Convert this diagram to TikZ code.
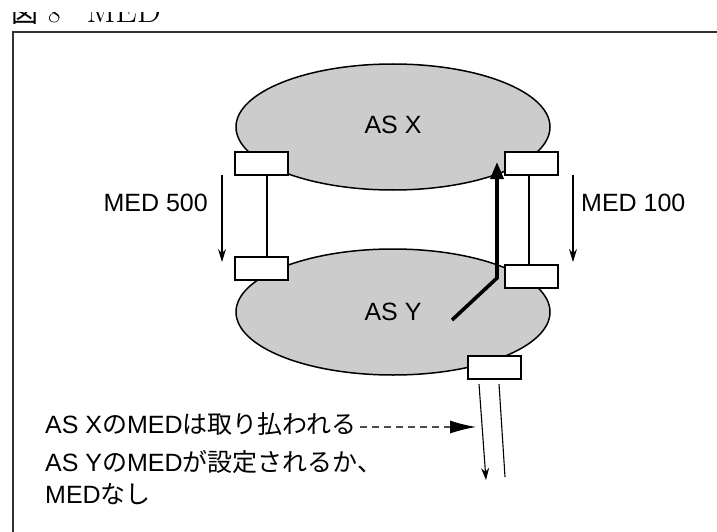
\documentclass[tikz,border=0pt]{standalone}
\usepackage{fontspec}
\setsansfont{Liberation Sans}
\newfontfamily\jpfont{Noto Sans CJK JP}
\usetikzlibrary{shapes.geometric,arrows.meta}
\tikzset{
  asnet/.style={ellipse,draw,line width=1.5pt,fill=gray!40,minimum width=314pt,minimum height=126pt,inner sep=0pt,font=\sffamily\fontsize{25}{30}\selectfont},
  router/.style={draw,line width=2pt,fill=white,minimum width=53pt,minimum height=23pt,inner sep=0pt},
  medarrow/.style={line width=1.1pt,-{Stealth[length=13pt,width=8pt]}},
  lbl/.style={inner sep=0pt,font=\sffamily\fontsize{25}{30}\selectfont},
}
\newcommand{\ja}[1]{{\jpfont #1}}
\begin{document}
\begin{tikzpicture}[x=1pt,y=-1pt]
\useasboundingbox (0,0) rectangle (717,532);
\clip (0,0) rectangle (717,532);
% title, only its lower edge shows
\begin{scope}
\clip (0,13) rectangle (200,24);
\node[anchor=base west,inner sep=0pt,font=\fontsize{27}{30}\selectfont] (ttl) at (11,23) {\ja{図}\hspace{10pt}8\hspace{26pt}\fontsize{34}{36}\selectfont MED};
\end{scope}
% frame
\draw[black!80,line width=2pt] (13,540) -- (13,32) -- (730,32);
% the two AS
\node[asnet] (asx) at (393,127) {\raisebox{5pt}{AS X}};
\node[asnet] (asy) at (393,312) {\raisebox{-4pt}{AS Y}};
% routers
\node[router] (rxa) at (261.5,163.5) {};
\node[router] (rxb) at (531,163.5) {};
\node[router] (rya) at (261.5,268.5) {};
\node[router] (ryb) at (531,276) {};
\node[router] (ryc) at (494,367.5) {};
% links
\draw[line width=1.3pt] ([xshift=5.5pt]rxa.south) -- ([xshift=5.5pt]rya.north);
\draw[line width=1.3pt] ([xshift=-2pt]rxb.south) -- ([xshift=-2pt]ryb.north);
% MED labels
\coordinate (m5top) at (222,175);
\coordinate (m5bot) at (222,262);
\coordinate (m1top) at (573,175);
\coordinate (m1bot) at (573,262);
\draw[medarrow] (m5top) -- (m5bot);
\draw[medarrow] (m1top) -- (m1bot);
\node[lbl,anchor=east] (med5) at (208,203) {MED 500};
\node[lbl,anchor=west] (med1) at (581,203) {MED 100};
% chosen path
\coordinate (pstart) at (452,320);
\coordinate (pbend) at (497,278);
\coordinate (ptip) at (497,162);
\draw[line width=3.6pt,line join=miter,-{Stealth[length=17pt,width=13pt,inset=0pt]}] (pstart) -- (pbend) -- (ptip);
% out to the next AS
\coordinate (out1) at (486,480);
\coordinate (out2) at (505,477);
\draw[line width=1.1pt,-{Stealth[length=12pt,width=8pt]}] ([xshift=-15pt,yshift=-4pt]ryc.south) -- (out1);
\draw[line width=1.1pt] ([xshift=5pt,yshift=-4pt]ryc.south) -- (out2);
% notes
\node[lbl,anchor=base west] (note1) at (45,433) {AS X\ja{の}MED\ja{は取り払われる}};
\node[lbl,anchor=base west] (note2) at (45,471) {AS Y\ja{の}MED\ja{が設定されるか、}};
\node[lbl,anchor=base west] (note3) at (45,503) {MED\ja{なし}};
\coordinate (dtip) at (476,427);
\draw[black!70,line width=1.1pt,dash pattern=on 7pt off 5pt,-{Latex[length=26pt,width=13pt,black]}] ([xshift=3pt,yshift=6pt]note1.base east) -- (dtip);
\end{tikzpicture}
\end{document}
